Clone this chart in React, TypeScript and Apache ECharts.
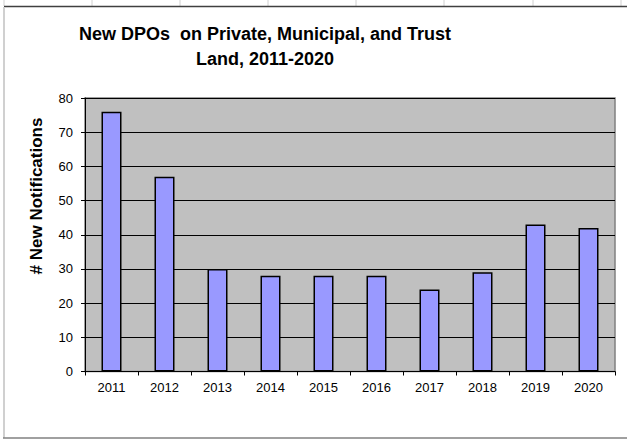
import React, { useEffect, useRef } from "react";
import * as echarts from "echarts";

const years = ["2011", "2012", "2013", "2014", "2015", "2016", "2017", "2018", "2019", "2020"];
const notifications = [76, 57, 30, 28, 28, 28, 24, 29, 43, 42];
const yMin = 0;
const yMax = 80;
const yInterval = 10;
const titleLines = ["New DPOs  on Private, Municipal, and Trust", "Land, 2011-2020"];
const yAxisName = "# New Notifications";
const sheetColumnX = [4, 92, 180, 268, 356, 444, 533, 621];

const FONT = "'Liberation Sans', Arial, sans-serif";

export default function App() {
  const ref = useRef<HTMLDivElement>(null);
  useEffect(() => {
    if (!ref.current) return;
    const chart = echarts.init(ref.current, undefined, { renderer: "svg" });
    const graphics: any[] = [];
    sheetColumnX.forEach((x) => {
      graphics.push({
        type: "line",
        shape: { x1: x, y1: 0, x2: x, y2: 6 },
        style: { stroke: "#d0d0d0", lineWidth: 1 },
        silent: true,
      });
    });
    graphics.push(
      {
        type: "line",
        shape: { x1: 4, y1: 6.5, x2: 627, y2: 6.5 },
        style: { stroke: "#404040", lineWidth: 1.5 },
        silent: true,
      },
      {
        type: "line",
        shape: { x1: 4, y1: 7, x2: 4, y2: 438 },
        style: { stroke: "#d0d0d0", lineWidth: 2 },
        silent: true,
      },
      {
        type: "line",
        shape: { x1: 3, y1: 438, x2: 627, y2: 438 },
        style: { stroke: "#808080", lineWidth: 1.5 },
        silent: true,
      },
      {
        type: "text",
        x: 265,
        y: 34,
        style: {
          text: titleLines[0],
          font: `bold 18px ${FONT}`,
          fill: "#000",
          textAlign: "center",
          textVerticalAlign: "middle",
        },
      },
      {
        type: "text",
        x: 265,
        y: 58.5,
        style: {
          text: titleLines[1],
          font: `bold 18px ${FONT}`,
          fill: "#000",
          textAlign: "center",
          textVerticalAlign: "middle",
        },
      },
      {
        type: "text",
        x: 36,
        y: 196,
        rotation: Math.PI / 2,
        style: {
          text: yAxisName,
          font: `bold 17px ${FONT}`,
          fill: "#000",
          textAlign: "center",
          textVerticalAlign: "middle",
        },
      }
    );

    chart.setOption({
      animation: false,
      backgroundColor: "#ffffff",
      textStyle: { fontFamily: FONT },
      grid: {
        left: 85,
        top: 98,
        right: 12,
        bottom: 67.5,
        show: true,
        backgroundColor: "#c0c0c0",
        borderColor: "#808080",
        borderWidth: 1.5,
      },
      xAxis: {
        type: "category",
        data: years,
        boundaryGap: true,
        axisLine: { show: true, lineStyle: { color: "#000", width: 1 } },
        axisTick: { show: true, alignWithLabel: false, length: 4, inside: false, lineStyle: { color: "#000" } },
        axisLabel: { color: "#000", fontSize: 13, fontFamily: FONT, margin: 9 },
        splitLine: { show: false },
      },
      yAxis: {
        type: "value",
        min: yMin,
        max: yMax,
        interval: yInterval,
        axisLine: { show: true, lineStyle: { color: "#000", width: 1 } },
        axisTick: { show: true, length: 4, inside: false, lineStyle: { color: "#000" } },
        axisLabel: { color: "#000", fontSize: 13, fontFamily: FONT, margin: 12 },
        splitLine: { show: true, lineStyle: { color: "#000", width: 1 } },
      },
      series: [
        {
          type: "bar",
          data: notifications,
          barWidth: 20,
          itemStyle: { color: "#9999ff", borderColor: "#000", borderWidth: 1.5 },
        },
      ],
      graphic: graphics,
    });
    return () => chart.dispose();
  }, []);
  return (
    <div
      ref={ref}
      style={{ position: "fixed", left: 0, top: 0, width: 627, height: 439, background: "#fff" }}
    />
  );
}
